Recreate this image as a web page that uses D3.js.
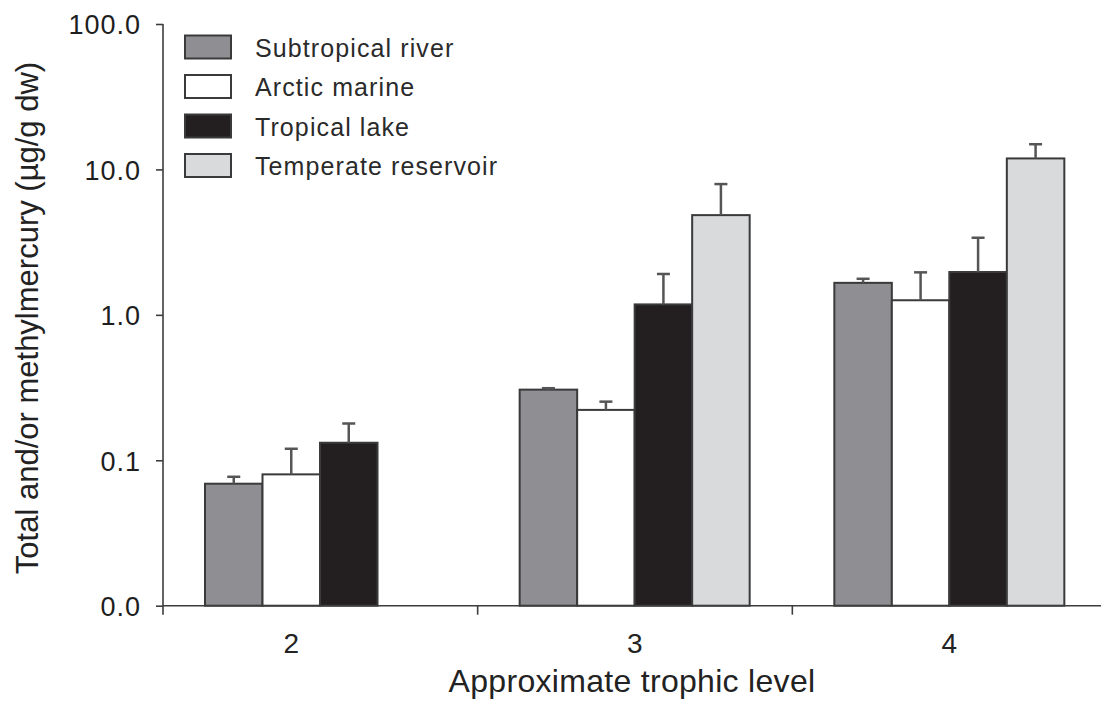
<!DOCTYPE html>
<html>
<head>
<meta charset="utf-8">
<script src="https://cdn.jsdelivr.net/npm/d3@7/dist/d3.min.js"></script>
<style>
  html, body { margin: 0; padding: 0; background: #fff; }
  svg { display: block; font-family: "Liberation Sans", Arial, Helvetica, sans-serif; }
</style>
</head>
<body>
<svg id="chart" width="1101" height="702"></svg>
<script>
// Trophic levels on the x axis
const levels = ["2", "3", "4"];

// Ecosystem series (legend order)
const seriesNames = ["Subtropical river", "Arctic marine", "Tropical lake", "Temperate reservoir"];
const seriesFill = ["#8f8f93", "#ffffff", "#231f20", "#d9dadc"];

// Mean concentrations (µg/g dw) per trophic level 2, 3, 4; null = no data
const subtropicalRiver   = [0.069, 0.306, 1.66];
const arcticMarine       = [0.080, 0.222, 1.26];
const tropicalLake       = [0.132, 1.18, 1.97];
const temperateReservoir = [null, 4.85, 11.9];

// Upper error (added to the mean)
const subtropicalRiverErr   = [0.008, 0.007, 0.11];
const arcticMarineErr       = [0.040, 0.031, 0.70];
const tropicalLakeErr       = [0.047, 0.73, 1.42];
const temperateReservoirErr = [null, 3.08, 3.0];

// Y axis ticks and their printed labels
const yTickValues = [0.01, 0.1, 1, 10, 100];
const yTickLabels = ["0.0", "0.1", "1.0", "10.0", "100.0"];

const values = [subtropicalRiver, arcticMarine, tropicalLake, temperateReservoir];
const errors = [subtropicalRiverErr, arcticMarineErr, tropicalLakeErr, temperateReservoirErr];

const bars = [];
levels.forEach((lv, i) => {
  seriesNames.forEach((s, j) => {
    const v = values[j][i];
    if (v != null) bars.push({ level: lv, series: s, idx: j, value: v, err: errors[j][i] });
  });
});

const svg = d3.select("#chart");
const axisColor = "#3d3d3d";
const plotLeft = 163, plotRight = 1107, plotTop = 24, plotBottom = 605.7;

const x0 = d3.scaleBand().domain(levels).range([plotLeft, plotRight]).paddingInner(0);
const x1 = d3.scaleBand().domain(seriesNames).range([42, 272]);
const y = d3.scaleLog().domain([0.01, 100]).range([plotBottom, plotTop]);

// Bars
svg.append("g").selectAll("rect").data(bars).join("rect")
  .attr("x", d => x0(d.level) + x1(d.series))
  .attr("y", d => y(d.value))
  .attr("width", x1.bandwidth())
  .attr("height", d => plotBottom - y(d.value))
  .attr("fill", d => seriesFill[d.idx])
  .attr("stroke", "#3a3a3a")
  .attr("stroke-width", 2);

// Upper error bars
const eb = svg.append("g").attr("stroke", "#555").attr("stroke-width", 2.5);
bars.forEach(d => {
  const cx = x0(d.level) + x1(d.series) + x1.bandwidth() / 2;
  const yTop = y(d.value + d.err);
  eb.append("line").attr("x1", cx).attr("x2", cx).attr("y1", y(d.value)).attr("y2", yTop);
  eb.append("line").attr("x1", cx - 6.5).attr("x2", cx + 6.5).attr("y1", yTop).attr("y2", yTop);
});

// Y axis
const yAxis = d3.axisLeft(y)
  .tickValues(yTickValues)
  .tickFormat((d, i) => yTickLabels[i])
  .tickSize(7)
  .tickPadding(15);
const gy = svg.append("g").attr("transform", `translate(${plotLeft},0)`).call(yAxis);
gy.select(".domain").remove();
gy.selectAll(".tick line").attr("stroke", axisColor).attr("stroke-width", 1.6);
gy.selectAll(".tick text")
  .attr("fill", "#1e1e1e")
  .style("font-size", "27px")
  .style("letter-spacing", "1px")
  .attr("dy", "0.36em");
svg.append("line")
  .attr("x1", plotLeft).attr("x2", plotLeft).attr("y1", plotTop).attr("y2", plotBottom + 9)
  .attr("stroke", axisColor).attr("stroke-width", 1.6);

// X axis line and separators between levels
svg.append("line")
  .attr("x1", plotLeft).attr("x2", 1101).attr("y1", plotBottom).attr("y2", plotBottom)
  .attr("stroke", axisColor).attr("stroke-width", 1.6);
svg.append("g").selectAll("line").data(levels.slice(1)).join("line")
  .attr("x1", d => x0(d)).attr("x2", d => x0(d))
  .attr("y1", plotBottom).attr("y2", plotBottom + 9)
  .attr("stroke", axisColor).attr("stroke-width", 1.6);

// Level labels, centred under the bars present in each group
svg.append("g").selectAll("text").data(levels).join("text")
  .attr("x", lv => {
    const present = bars.filter(b => b.level === lv);
    return d3.mean(present, b => x0(lv) + x1(b.series) + x1.bandwidth() / 2);
  })
  .attr("y", 653)
  .attr("text-anchor", "middle")
  .attr("fill", "#222")
  .style("font-size", "28px")
  .text(d => d);

// Axis titles
svg.append("text")
  .attr("x", 632).attr("y", 692)
  .attr("text-anchor", "middle")
  .attr("fill", "#222")
  .style("font-size", "32px")
  .style("letter-spacing", "0.3px")
  .text("Approximate trophic level");

svg.append("text")
  .attr("transform", "translate(38,318) rotate(-90)")
  .attr("text-anchor", "middle")
  .attr("fill", "#222")
  .style("font-size", "31px")
  .text("Total and/or methylmercury (µg/g dw)");

// Legend
const legend = svg.append("g").attr("transform", "translate(185,35.5)");
seriesNames.forEach((s, i) => {
  const g = legend.append("g").attr("transform", `translate(0,${i * 39.5})`);
  g.append("rect").attr("width", 46).attr("height", 23)
    .attr("fill", seriesFill[i]).attr("stroke", "#3a3a3a").attr("stroke-width", 2);
  g.append("text").attr("x", 70).attr("y", 21)
    .attr("fill", "#2a2a2a")
    .style("font-size", "25px")
    .style("letter-spacing", "1.1px")
    .text(s);
});
</script>
</body>
</html>
